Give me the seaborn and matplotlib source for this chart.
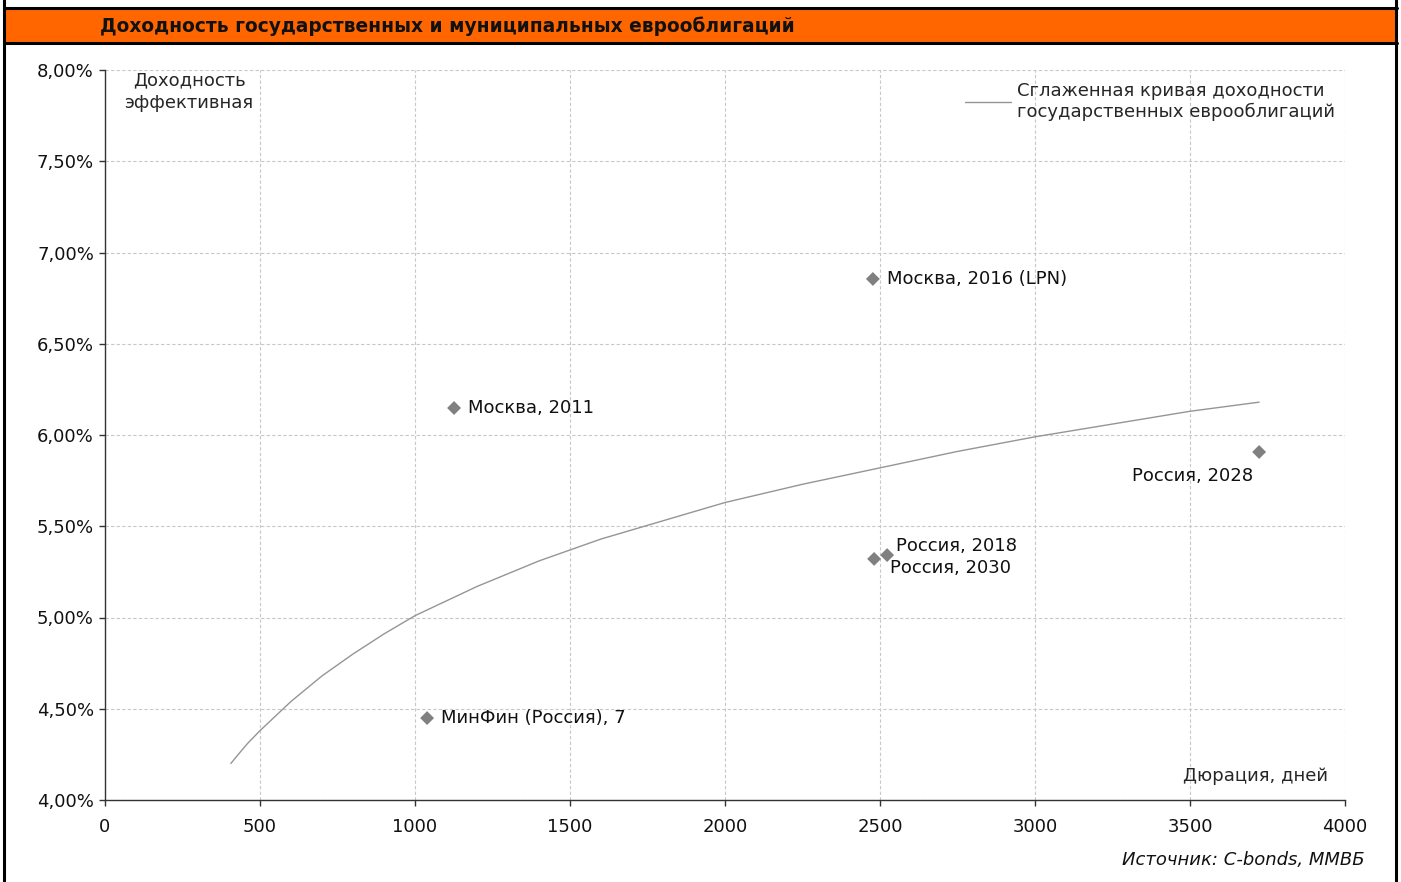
import matplotlib
matplotlib.use("Agg")
import pandas as pd
import seaborn as sns
from matplotlib import pyplot as plt
from matplotlib.patches import Rectangle
from matplotlib.lines import Line2D
from matplotlib.ticker import FuncFormatter

# smoothed yield curve
curve_days = [406, 430, 460, 500, 550, 600, 700, 800, 900, 1000, 1200, 1400, 1600, 1800,
              2000, 2250, 2500, 2750, 3000, 3250, 3500, 3723]
curve_yield = [4.20, 4.25, 4.31, 4.38, 4.46, 4.54, 4.68, 4.80, 4.91, 5.01, 5.17, 5.31, 5.43, 5.53,
               5.63, 5.73, 5.82, 5.91, 5.99, 6.06, 6.13, 6.18]

# individual bonds
bond_names = ["Москва, 2016 (LPN)", "Москва, 2011", "Россия, 2028",
              "Россия, 2018", "Россия, 2030", "МинФин (Россия), 7"]
bond_days = [2477, 1126, 3723, 2523, 2481, 1039]
bond_yield = [6.855, 6.148, 5.907, 5.342, 5.321, 4.449]

curve = pd.DataFrame({"days": curve_days, "yield": curve_yield})
bonds = pd.DataFrame({"name": bond_names, "days": bond_days, "yield": bond_yield})

sns.set_style("white")
plt.rcParams['font.family'] = ['DejaVu Sans']
FS = 13

fig = plt.figure(figsize=(14.01, 8.82), dpi=100)
ax = fig.add_axes([105/1401, 1-800/882, 1240/1401, 730/882])

sns.lineplot(data=curve, x="days", y="yield", ax=ax, color="#959595", linewidth=1,
             label="Сглаженная кривая доходности\nгосударственных еврооблигаций")
sns.scatterplot(data=bonds, x="days", y="yield", ax=ax, marker="D", s=50,
                color="#808080", edgecolor="none", legend=False, zorder=3)

# labels next to points: (dx, dy) offsets in points, ha
offsets = {
    "Москва, 2016 (LPN)": (10, 0, "left"),
    "Москва, 2011": (10, 0, "left"),
    "Россия, 2028": (-4, -17, "right"),
    "Россия, 2018": (6.5, 6.5, "left"),
    "Россия, 2030": (11.5, -6.5, "left"),
    "МинФин (Россия), 7": (10, 0, "left"),
}
for _, r in bonds.iterrows():
    dx, dy, ha = offsets[r["name"]]
    ax.annotate(r["name"], (r["days"], r["yield"]), xytext=(dx, dy),
                textcoords="offset points", ha=ha, va="center", fontsize=FS,
                color="#111111")

ax.set_xlim(0, 4000)
ax.set_ylim(4.0, 8.0)
ax.set_xticks(range(0, 4001, 500))
ax.set_yticks([4.0, 4.5, 5.0, 5.5, 6.0, 6.5, 7.0, 7.5, 8.0])
ax.yaxis.set_major_formatter(FuncFormatter(lambda v, p: f"{v:.2f}%".replace(".", ",")))
ax.set_xlabel("")
ax.set_ylabel("")
ax.grid(True, color="#c8c8c8", linestyle=(0, (3, 2)), linewidth=0.8)
for s in ["top", "right"]:
    ax.spines[s].set_visible(False)
for s in ["left", "bottom"]:
    ax.spines[s].set_color("#333333")
    ax.spines[s].set_linewidth(1)
ax.tick_params(axis="both", direction="out", length=4, width=1, color="#333333",
               labelsize=FS, labelcolor="#111111", left=True, bottom=True)
ax.tick_params(axis="x", pad=9)
ax.tick_params(axis="y", pad=4)

ax.text(271, 7.995, "Доходность\nэффективная", ha="center", va="top", fontsize=FS,
        linespacing=1.38)
ax.text(3945, 4.13, "Дюрация, дней", ha="right", va="center", fontsize=FS)

leg = ax.legend(loc="upper right", bbox_to_anchor=(1.005, 1.006), frameon=False,
                fontsize=FS, handlelength=2.5, handletextpad=0.35)

# frame and title band
fig.add_artist(Rectangle((5/1401, 1-42/882), 1391/1401, 33/882, transform=fig.transFigure,
                         facecolor="#FF6600", edgecolor="none"))
fig.add_artist(Line2D([4/1401, 1397/1401], [1-8/882, 1-8/882], color="black", lw=2.2))
fig.add_artist(Line2D([4/1401, 1397/1401], [1-42.5/882, 1-42.5/882], color="black", lw=2.2))
fig.add_artist(Line2D([4/1401, 4/1401], [0, 1], color="black", lw=2.2))
fig.add_artist(Line2D([1396/1401, 1396/1401], [0, 1], color="black", lw=2.2))
fig.text(100/1401, 1-26/882, "Доходность государственных и муниципальных еврооблигаций",
         ha="left", va="center", fontsize=13.4, fontweight="bold", color="#111111")
fig.text(1365/1401, 1-860/882, "Источник: C-bonds, ММВБ", ha="right", va="center",
         fontsize=FS, style="italic", color="#111111")

fig.savefig("out.png", dpi=100)
